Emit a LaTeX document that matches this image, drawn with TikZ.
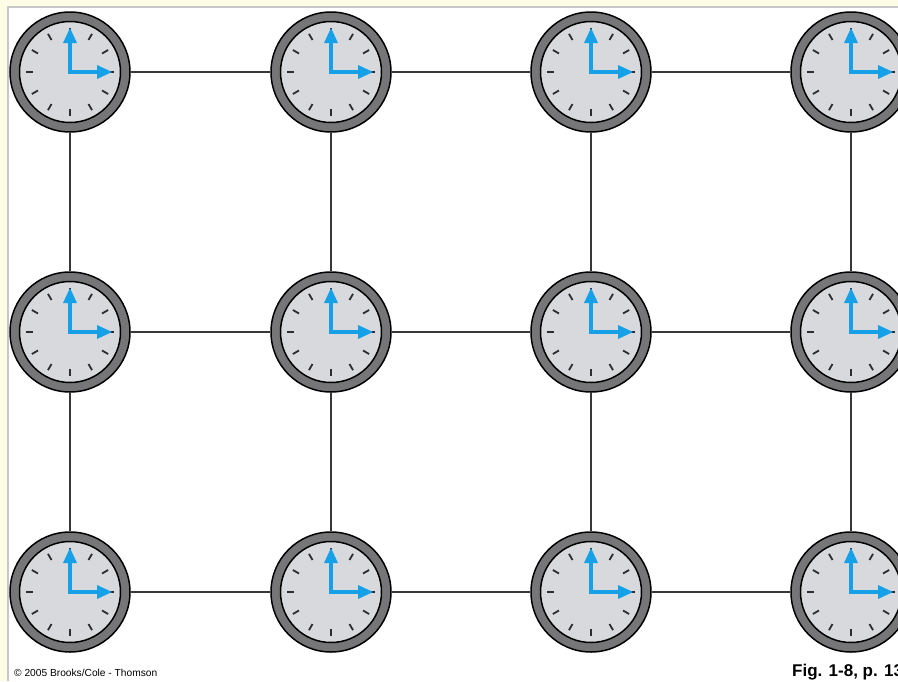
\documentclass[tikz,border=0pt]{standalone}
\usepackage{fontspec}
\setmainfont{Liberation Sans}
\definecolor{bgyellow}{RGB}{253,252,228}
\definecolor{edgegray}{RGB}{200,200,200}
\definecolor{ringgray}{RGB}{118,118,120}
\definecolor{facegray}{RGB}{216,217,220}
\definecolor{tickcol}{RGB}{45,45,45}
\definecolor{handblue}{RGB}{22,160,232}
\definecolor{linecol}{RGB}{55,55,55}
\tikzset{
  clocknode/.style={circle, minimum size=121pt, inner sep=0pt, draw=none},
  gridline/.style={draw=linecol, line width=2pt},
  clock/.pic={
    \fill[ringgray, draw=black, line width=1.5pt] (0,0) circle (60);
    \fill[facegray, draw=black, line width=1.5pt] (0,0) circle (50.5);
    \foreach \a in {0,30,...,330} \draw[tickcol, line width=1.8pt] (\a:37) -- (\a:44);
    \draw[handblue, line width=4.5pt, line join=miter] (0,-31) -- (0,0) -- (29,0);
    \fill[handblue] (0,-44) -- (-7,-29) -- (7,-29) -- cycle;
    \fill[handblue] (42,0) -- (27,-7) -- (27,7) -- cycle;
  }
}
\begin{document}
\begin{tikzpicture}[x=1pt,y=-1pt]
\useasboundingbox (0,0) rectangle (898,681);
\clip (0,0) rectangle (898,681);
\fill[bgyellow] (0,0) rectangle (898,681);
\fill[edgegray] (7,6) rectangle (898,681);
\fill[white] (8.5,7.5) rectangle (898,681);
% clock nodes
\foreach \c/\x in {1/70,2/331,3/591,4/851}{
  \foreach \r/\y in {1/72,2/332,3/592}{
    \node[clocknode] (c\r\c) at (\x,\y) {};
  }
}
% connectors
\foreach \r in {1,2,3}{
  \draw[gridline] (c\r1) -- (c\r2);
  \draw[gridline] (c\r2) -- (c\r3);
  \draw[gridline] (c\r3) -- (c\r4);
}
\foreach \c in {1,2,3,4}{
  \draw[gridline] (c1\c) -- (c2\c);
  \draw[gridline] (c2\c) -- (c3\c);
}
% clock faces
\foreach \c in {1,2,3,4}{
  \foreach \r in {1,2,3}{
    \pic at (c\r\c) {clock};
  }
}
\node[anchor=base west, inner sep=0pt, font=\fontsize{10.2}{12}\selectfont] (copy) at (14,676.5) {© 2005 Brooks/Cole - Thomson};
\node[anchor=base west, inner sep=0pt, font=\bfseries\fontsize{17}{19}\selectfont] (fig) at (792,676) {Fig. 1-8, p. 13};
\end{tikzpicture}
\end{document}
